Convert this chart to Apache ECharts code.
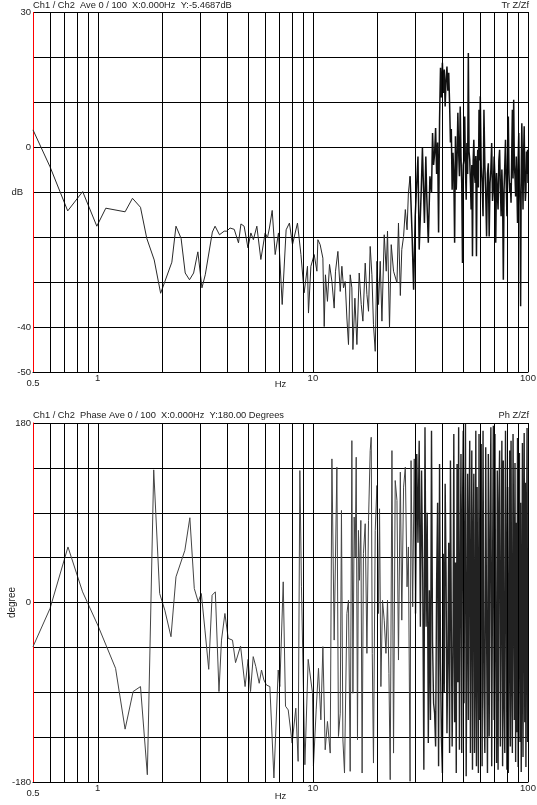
<!DOCTYPE html>
<html>
<head>
<meta charset="utf-8">
<title>Ch1 / Ch2 Tr Z/Zf and Ph Z/Zf</title>
<script src="https://cdn.jsdelivr.net/npm/echarts@6/dist/echarts.min.js"></script>
<style>
  html, body { margin: 0; padding: 0; background: #fff; }
  #chart { width: 537px; height: 805px; }
</style>
</head>
<body>
<div id="chart"></div>
<script>
// vertical grid lines, Hz (same in both panels)
const gridFreqs = [0.6, 0.7, 0.8, 0.9, 1, 2, 3, 4, 5, 6, 7, 8, 9, 10, 20, 30, 40, 50, 60, 70, 80, 90, 100]

// Tr Z/Zf (dB)
const trFreq = [
  0.5, 0.6, 0.725, 0.851, 0.99, 1.09, 1.34, 1.45, 1.58, 1.69, 1.83, 1.96, 2.21, 2.31, 2.44,
  2.55, 2.67, 2.79, 2.92, 3.05, 3.16, 3.41, 3.51, 3.68, 3.87, 3.98, 4.12, 4.31, 4.51, 4.63,
  4.79, 4.99, 5.15, 5.29, 5.49, 5.73, 6.0, 6.15, 6.28, 6.47, 6.68, 6.92, 7.2, 7.51, 7.78,
  8.04, 8.48, 8.8, 9.11, 9.44, 9.54, 9.79, 10.14, 10.44, 10.55, 10.81, 11.13, 11.29, 11.44, 11.69,
  11.95, 12.26, 12.56, 12.74, 13.07, 13.4, 13.64, 13.88, 14.13, 14.39, 14.64, 14.91, 15.18, 15.35, 15.68,
  16.02, 16.42, 16.78, 17.08, 17.51, 17.83, 18.14, 18.47, 18.81, 19.13, 19.49, 19.85, 20.19, 20.56, 20.94,
  21.46, 21.93, 22.23, 22.71, 23.13, 23.71, 24.6, 25.0, 25.5, 25.9, 26.4, 26.9, 27.4, 27.8, 28.3,
  28.9, 29.4, 29.9, 30.5, 30.8, 31.2, 31.9, 32.3, 33.0, 33.5, 33.8, 34.4, 35.0, 35.6,
  36.0, 36.4, 36.8, 37.2, 37.6, 38.0, 38.4, 38.8, 39.2, 39.6, 40.0, 40.4, 40.8, 41.2, 41.6,
  42.0, 42.4, 42.8, 43.2, 43.6, 44.0, 44.4, 44.8, 45.2, 45.6, 46.0, 46.4, 46.8, 47.2, 47.6,
  48.0, 48.4, 48.8, 49.2, 49.6, 50.0, 50.4, 50.8, 51.2, 51.6, 52.0, 52.4, 52.8, 53.2, 53.6,
  54.0, 54.4, 54.8, 55.2, 55.6, 56.0, 56.4, 56.8, 57.2, 57.6, 58.0, 58.4, 58.8, 59.2, 59.6,
  60.0, 60.6, 61.2, 61.8, 62.4, 63.0, 63.6, 64.2, 64.8, 65.4, 66.0, 66.6, 67.2, 67.8, 68.4,
  69.0, 69.6, 70.2, 70.8, 71.4, 72.0, 72.6, 73.2, 73.8, 74.4, 75.0, 75.6, 76.2, 76.8, 77.4,
  78.0, 78.6, 79.2, 79.8, 80.4, 81.0, 81.6, 82.2, 82.8, 83.4, 84.0, 84.6, 85.2, 85.8, 86.4,
  87.0, 87.6, 88.2, 88.8, 89.4, 90.0, 90.6, 91.2, 91.8, 92.4, 93.0, 93.6, 94.2, 94.8, 95.4,
  96.0, 96.6, 97.2, 97.8, 98.4, 99.0, 99.6, 100
]
const trDb = [
  3.8, -4.4, -14.2, -9.9, -17.6, -13.6, -14.4, -11.4, -13.4, -20.3, -25.1, -32.5, -25.6, -17.6, -20.3,
  -28, -29.5, -28, -23.3, -31.3, -28.4, -18.9, -17.6, -19.5, -18.7, -18.7, -18, -18.3, -21.3, -17.1,
  -17.6, -22.4, -19.1, -20.6, -17.6, -25, -19.1, -20.2, -18, -14.1, -23.9, -19.1, -35, -18.4, -16.9,
  -21.7, -16.9, -23.9, -32.4, -26.5, -36.9, -26.5, -23.9, -27.6, -20.6, -21.7, -24.7, -39.9, -28.4, -34.3,
  -26.1, -29.9, -35.8, -27.6, -23.2, -32.1, -26.5, -31.3, -29.9, -38, -43.9, -28.4, -31.3, -45, -33.6,
  -43.9, -28, -35, -38.7, -25.8, -32.8, -36.5, -22.1, -28.4, -39.5, -45.4, -25.4, -35, -25.4, -38.7,
  -19.5, -27.6, -18.7, -40.2, -21.7, -27.6, -30.2, -16.9, -33, -22.8, -19.9, -13.9, -18.4, -10.2, -6.5,
  -19.1, -31.7, -15.4, -6.5, -2.1, -22.8, -9.5, -0.2, -16.9, -2.1, -10.2, -21.3, -6.5, -10.2,
  3.1, -4, -1.5, 4.2, -6, 1, -19, 6, 17.6, 11, 18.7, 12, 17.2, 9, 15,
  17.9, 12.5, 16.5, 9.8, 1, 4, -9.5, -1.3, -6, -21.3, 2.4, -9.5, -3, 7.6, -1,
  -6.5, 9, -2, -8, -25.8, -4, -2.8, 6.8, -5, -11.7, 0.9, -6, 20.9, -1, -2.8,
  -8, -13.9, -4, -24.3, -3, 1.6, -6, -8, -2, -24.3, -5, -0.6, -9, 8.3, -3,
  11.3, -4.3, -8, -15.4, 8.3, -4, -10.2, -19.9, -6, -3.6, -19.9, -8, -5, 0.9, -12,
  -9.5, -2.1, -7, -21.3, -5.8, -10, -13.9, -3, -0.6, -9, -15.4, -5, -11, -29.5, -9.5,
  -4, 1.6, -8, -15.4, -3, 6.8, -6, -10, -8, -12.4, -2, 8.3, -7, 10.5, -4,
  -6.5, -11, -2.1, -9, -16.9, -3, 3.1, -8, -13, -35.4, -6, 5.3, -4, -13.9, -2,
  4.6, -7, -12, -9.5, -1, -6, -0.6, -8
]

// Ph Z/Zf (degrees)
const phFreq = [
  0.5, 0.6, 0.727, 0.85, 1.0, 1.21, 1.34, 1.46, 1.58, 1.7, 1.82, 1.94, 2.05, 2.19, 2.31,
  2.54, 2.68, 2.81, 2.93, 3.03, 3.15, 3.28, 3.4, 3.52, 3.66, 3.76, 3.9, 4.04, 4.23, 4.37,
  4.61, 4.84, 5.0, 5.13, 5.28, 5.43, 5.63, 5.77, 5.92, 6.08, 6.31, 6.59, 6.9, 7.02, 7.28,
  7.46, 7.68, 8.01, 8.33, 8.54, 8.7, 8.85, 9.18, 9.51, 9.96, 10.06, 10.36, 10.62, 10.89, 11.13,
  11.41, 11.69, 12.04, 12.26, 12.56, 12.93, 13.15, 13.4, 13.58, 13.79, 14.03, 14.39, 14.64, 14.91, 15.18,
  15.35, 15.56, 15.73, 15.9, 16.12, 16.29, 16.47, 16.71, 16.94, 17.18, 17.51, 17.83, 18.14, 18.47, 18.67,
  18.88, 19.13, 19.49, 19.85, 20.19, 20.41, 20.71, 21.07, 21.46, 21.86, 22.23, 22.57, 22.88, 23.31, 23.71,
  24.14, 24.6, 25.0, 25.5, 25.9, 26.4, 26.9, 27.4, 27.8, 28.3, 28.6, 29.1, 29.6,
  30.0, 30.4, 30.8, 31.2, 31.6, 32.0, 32.4, 32.8, 33.2, 33.6, 34.0, 34.4, 34.8, 35.2, 35.6,
  36.0, 36.4, 36.8, 37.2, 37.6, 38.0, 38.4, 38.8, 39.2, 39.6, 40.0, 40.4, 40.8, 41.2, 41.6,
  42.0, 42.4, 42.8, 43.2, 43.6, 44.0, 44.4, 44.8, 45.2, 45.6, 46.0, 46.4, 46.8, 47.2, 47.6,
  48.0, 48.4, 48.8, 49.2, 49.6, 50.0, 50.4, 50.8, 51.2, 51.6, 52.0, 52.4, 52.8, 53.2, 53.6,
  54.0, 54.4, 54.8, 55.2, 55.6, 56.0, 56.4, 56.8, 57.2, 57.6, 58.0, 58.4, 58.8, 59.2, 59.6,
  60.0, 60.6, 61.2, 61.8, 62.4, 63.0, 63.6, 64.2, 64.8, 65.4, 66.0, 66.6, 67.2, 67.8, 68.4,
  69.0, 69.6, 70.2, 70.8, 71.4, 72.0, 72.6, 73.2, 73.8, 74.4, 75.0, 75.6, 76.2, 76.8, 77.4,
  78.0, 78.6, 79.2, 79.8, 80.4, 81.0, 81.6, 82.2, 82.8, 83.4, 84.0, 84.6, 85.2, 85.8, 86.4,
  87.0, 87.6, 88.2, 88.8, 89.4, 90.0, 90.6, 91.2, 91.8, 92.4, 93.0, 93.6, 94.2, 94.8, 95.4,
  96.0, 96.6, 97.2, 97.8, 98.4, 99.0, 99.6, 100
]
const phDeg = [
  -44.3, -6, 55.7, 10.7, -22.7, -66, -127, -89.3, -84.3, -172.7, 133, 9, -7.7, -34.3, 25.7,
  52.3, 85, 14, 0.7, 9, -27.7, -67, 7.3, 10.7, -89.3, -37.7, -11, -36, -37.7, -60.3,
  -43.7, -84.3, -57, -89.3, -54.3, -64.3, -81, -67.7, -77.7, -82.7, -84.3, -176, -67.7, -84.3, 20.7,
  -104, -107.7, -141, -106, -159.3, 132.3, 15.7, -162.7, -57, -91, -164, -107.7, -66, -117.7, -44.3,
  -147.7, -119.3, -151, 144, -37.7, 135.7, -134.3, -111, 92.3, -137.7, -171, -11, 2.3, -169.3, 162.3,
  -91, 85.7, 45.7, 145.7, -137.7, 72.3, 22.3, 82.3, -171, 49, 79, -51, 82.3, 152.3, 165.7,
  -51, -161, 72.3, 117.3, -11, 94, -84.3, 2.3, -17.7, -51, 2.3, -71, -177.7, 152.3, -151,
  122.3, 102.3, -57.7, 130.7, -17.7, 115.7, 135.7, 15.7, 55.7, -179.3, 142.3, -4.3, 144,
  -11, 149, 60, 162.3, -24.3, 132.3, 29, -167.7, 175.7, -24.3, 90, -141, 12.3, -117.7, 172.3,
  -40, -101, -111, -144.3, 19, 100, -164.3, 139, -60, -137.7, -171, 49, -90, 119, 30,
  -131, -57.7, 60, -151, 142.3, -20, -144.3, -51, 169, -120, 40, -171, 139, -80, 175.7,
  -147.7, 20, 149, -151, 90, 172.3, -101, 50, 179, -174.3, -30, 129, -117.7, 80, 162.3,
  -151, 10, 152.3, -167.7, 60, 129, -151, -60, 172.3, -164.3, 115.7, -20, -171, 169, -117.7,
  40, 159, -164.3, 172.3, -90, -151, 155.7, -30, -171, 149, -134.3, 70, 175.7, -164.3, 20,
  177.3, -117.7, 169, -60, -161, 132.3, -167.7, 100, 152.3, -144.3, 0, 162.3, -164.3, 142.3, -100,
  -151, 172.3, 50, -167.7, 115.7, -171, -40, 152.3, -144.3, 162.3, -70, -151, 169, 30, -117.7,
  140, -160, 80, -130, 165, -165, 20, 150, -140, 100, -170, -50, 160, -155, 60,
  170, -120, 120, -165, 40, 175, -140, -117.7
]

// above these frequencies the analyser trace is so dense it prints almost solid
const trDenseFrom = 28
const phDenseFrom = 30

const dbLabels = { 30: '30', 0: '0', '-10': '{u|dB}', '-40': '-40', '-50': '-50' }
const degLabels = { 180: '180', 0: '0', '-180': '-180' }

const font = 'Liberation Sans, Arial, sans-serif'
const textColor = '#222'
const txt = { fontFamily: font, fontSize: 9.5, color: textColor }

const hzFormatter = (v) => {
  if (Math.abs(v - 0.5) < 1e-6) return '{low|0.5}'
  if (Math.abs(v - 1) < 1e-6) return '1'
  if (Math.abs(v - 10) < 1e-6) return '10'
  if (Math.abs(v - 100) < 1e-6) return '100'
  return ''
}

const makeXAxis = (gridIndex, gap) => ({
  type: 'log',
  logBase: 10,
  gridIndex,
  min: 0.5,
  max: 100,
  name: 'Hz',
  nameLocation: 'middle',
  nameGap: gap,
  nameMoveOverlap: false,
  nameTextStyle: txt,
  axisLine: { onZero: false, lineStyle: { color: '#000', width: 1 } },
  axisTick: { show: false },
  splitLine: { show: false },
  axisLabel: {
    ...txt,
    margin: 1,
    showMinLabel: true,
    showMaxLabel: true,
    formatter: hzFormatter,
    rich: { low: { ...txt, padding: [5, 0, 0, 0] } }
  }
})

const makeYAxis = (gridIndex, min, max, interval, labels) => ({
  type: 'value',
  gridIndex,
  min,
  max,
  interval,
  axisLine: { show: true, onZero: false, lineStyle: { color: '#ff0000', width: 1 } },
  axisTick: { show: false },
  splitLine: { show: true, lineStyle: { color: '#000', width: 1 } },
  axisLabel: {
    ...txt,
    margin: 2,
    formatter: (v) => labels[v] ?? '',
    rich: { u: { ...txt, padding: [0, 8, 0, 0] } }
  }
})

const gridMark = {
  silent: true,
  symbol: ['none', 'none'],
  label: { show: false },
  lineStyle: { color: '#000', width: 1, type: 'solid' },
  emphasis: { disabled: true },
  animation: false,
  data: gridFreqs.map(f => ({ xAxis: f }))
}

const titleBox = (text, pos, top) => ({
  text,
  ...pos,
  top,
  z: 1,
  backgroundColor: '#fff',
  padding: pos.left !== undefined ? [1, 6, 2, 0] : [1, 0, 2, 3],
  textStyle: { ...txt, fontSize: 9.3, fontWeight: 'normal' }
})

// split one trace in two pieces sharing the boundary point
const splitTrace = (freqs, values, fromHz) => {
  const pts = freqs.map((f, i) => [f, values[i]])
  const k = freqs.findIndex(f => f >= fromHz)
  return [pts.slice(0, k + 1), pts.slice(k)]
}

const [trSparse, trDense] = splitTrace(trFreq, trDb, trDenseFrom)
const [phSparse, phDense] = splitTrace(phFreq, phDeg, phDenseFrom)

const traceSeries = (name, gridIndex, data, color, width) => ({
  name,
  type: 'line',
  xAxisIndex: gridIndex,
  yAxisIndex: gridIndex,
  data,
  showSymbol: false,
  silent: true,
  lineStyle: { color, width }
})

const chart = echarts.init(document.getElementById('chart'))
chart.setOption({
  animation: false,
  backgroundColor: '#fff',
  title: [
    titleBox('Ch1 / Ch2  Ave 0 / 100  X:0.000Hz  Y:-5.4687dB', { left: 33 }, 0),
    titleBox('Tr Z/Zf', { right: 8 }, 0),
    titleBox('Ch1 / Ch2  Phase Ave 0 / 100  X:0.000Hz  Y:180.00 Degrees', { left: 33 }, 410),
    titleBox('Ph Z/Zf', { right: 8 }, 410)
  ],
  grid: [
    { left: 33, top: 12, width: 495, height: 360, outerBoundsMode: 'none', containLabel: false },
    { left: 33, top: 423, width: 495, height: 359, outerBoundsMode: 'none', containLabel: false }
  ],
  xAxis: [makeXAxis(0, 7), makeXAxis(1, 9)],
  yAxis: [
    makeYAxis(0, -50, 30, 10, dbLabels),
    {
      ...makeYAxis(1, -180, 180, 45, degLabels),
      name: 'degree',
      nameLocation: 'middle',
      nameGap: 16,
      nameRotate: 90,
      nameMoveOverlap: false,
      nameTextStyle: { ...txt, fontSize: 10 }
    }
  ],
  series: [
    { type: 'line', xAxisIndex: 0, yAxisIndex: 0, data: [], silent: true, markLine: gridMark },
    { type: 'line', xAxisIndex: 1, yAxisIndex: 1, data: [], silent: true, markLine: gridMark },
    traceSeries('Tr Z/Zf', 0, trSparse, '#2a2a2a', 1),
    traceSeries('Tr Z/Zf', 0, trDense, '#111', 1.5),
    traceSeries('Ph Z/Zf', 1, phSparse, '#444', 1),
    traceSeries('Ph Z/Zf', 1, phDense, '#222', 1.4)
  ]
})
</script>
</body>
</html>
